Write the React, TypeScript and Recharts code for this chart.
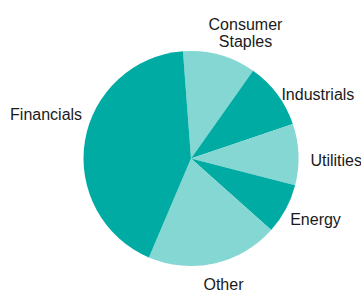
import { PieChart, Pie, Cell } from 'recharts';

const categories = ['Consumer Staples', 'Industrials', 'Utilities', 'Energy', 'Other', 'Financials'];
const shares = [11.0, 10.0, 9.2, 7.6, 19.8, 42.4];

const DARK = '#00aba3';
const LIGHT = '#84d7d2';
const sliceColors = [LIGHT, DARK, LIGHT, DARK, LIGHT, DARK];

// small hand tweaks so the labels sit where the original put them
const labelNudge: Record<string, [number, number]> = {
    'Consumer Staples': [22, -9],
    Industrials: [-7, 8],
    Utilities: [-2, 6],
    Energy: [-8, 3],
    Other: [6, 7],
    Financials: [11, -25],
};

const RAD = Math.PI / 180;
const LINE_H = 17;

const renderLabel = (props: any) => {
    const { cx, cy, midAngle, outerRadius, name } = props;
    const r = outerRadius + 14;
    const cos = Math.cos(-midAngle * RAD);
    const sin = Math.sin(-midAngle * RAD);
    const [nx, ny] = labelNudge[name] || [0, 0];
    const x = cx + r * cos + nx;
    const y = cy + r * sin + ny;
    const anchor = cos > 0.35 ? 'start' : cos < -0.35 ? 'end' : 'middle';
    const lines = String(name).split(' ');
    const first = -((lines.length - 1) * LINE_H) / 2;

    return (
        <text
            x={x}
            y={y}
            textAnchor={anchor}
            dominantBaseline="central"
            fill="#1a1a1a"
            style={{ fontFamily: '"Liberation Sans", Arial, sans-serif', fontSize: 16 }}
        >
            {lines.map((ln, i) => (
                <tspan key={i} x={x} dy={i === 0 ? first : LINE_H}>
                    {ln}
                </tspan>
            ))}
        </text>
    );
};

export default function App() {
    const data = categories.map((name, i) => ({ name, value: shares[i] }));

    return (
        <div style={{ position: 'absolute', left: 0, top: 0, width: 361, height: 291, background: '#fff' }}>
            <PieChart width={361} height={291} margin={{ top: 0, right: 0, bottom: 0, left: 0 }}>
                <Pie
                    data={data}
                    dataKey="value"
                    nameKey="name"
                    cx={191}
                    cy={158.5}
                    outerRadius={107.5}
                    startAngle={94.3}
                    endAngle={-265.7}
                    stroke="none"
                    label={renderLabel}
                    labelLine={false}
                    isAnimationActive={false}
                >
                    {data.map((d, i) => (
                        <Cell key={d.name} fill={sliceColors[i]} />
                    ))}
                </Pie>
            </PieChart>
        </div>
    );
}
